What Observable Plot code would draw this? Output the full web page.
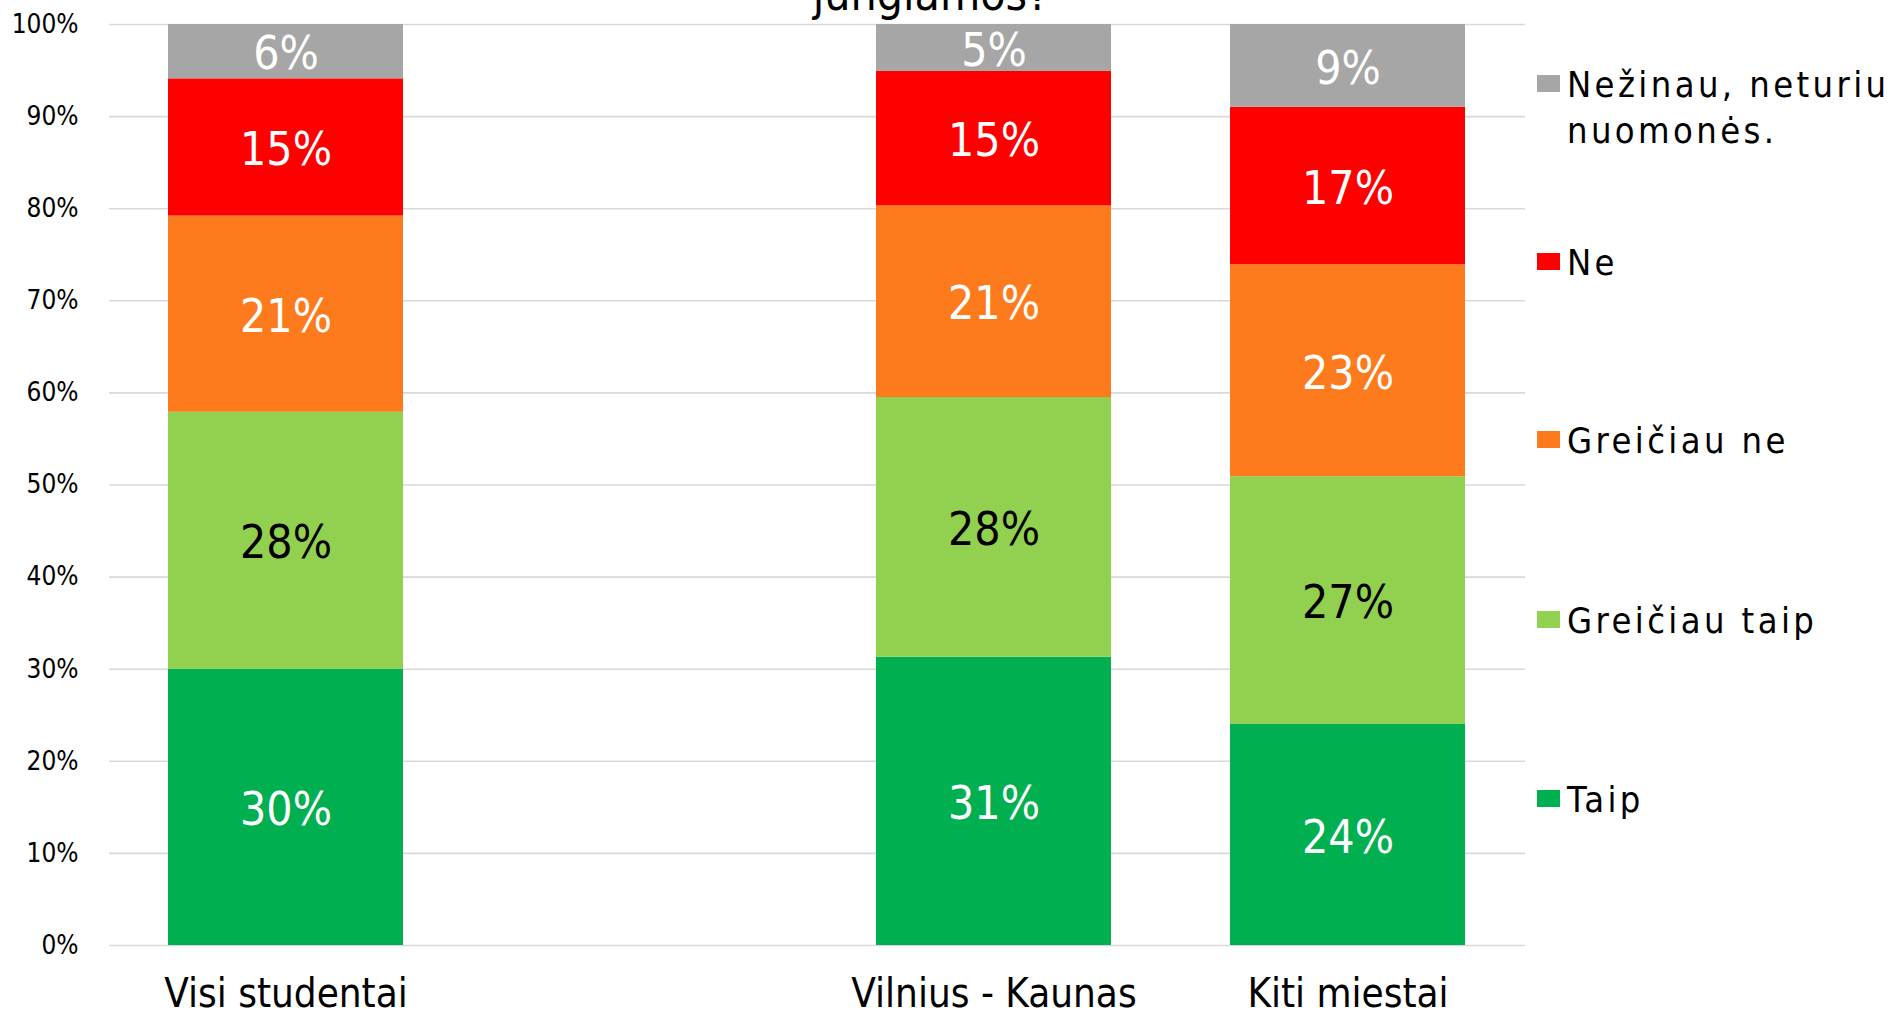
<!DOCTYPE html>
<html><head><meta charset="utf-8">
<script src="https://cdn.jsdelivr.net/npm/d3@7"></script>
<script src="https://cdn.jsdelivr.net/npm/@observablehq/plot@0.6"></script>
<style>
body{margin:0;background:#fff;}
#wrap{position:relative;width:1893px;height:1017px;overflow:hidden;background:#fff;font-family:"DejaVu Sans Condensed","DejaVu Sans",sans-serif;}
#title{position:absolute;left:0;width:1862px;text-align:center;top:-29px;font-size:46px;line-height:46px;color:#000;}
.sw{position:absolute;left:1537px;width:23px;height:17px;}
.lt{position:absolute;left:1567px;width:360px;font-size:36px;line-height:46px;letter-spacing:3.4px;color:#000;white-space:normal;}
#chart{position:absolute;left:0;top:0;}
</style></head><body>
<div id="wrap"><div id="chart"></div><div id="title">jungiamos?</div></div>
<script>
const groups = ["Visi studentai", " ", "Vilnius - Kaunas", "Kiti miestai"];
const answers = ["Taip", "Greičiau taip", "Greičiau ne", "Ne", "Nežinau, neturiu nuomonės."];
const colors = ["#00b050", "#92d050", "#fd7b1c", "#ff0000", "#a6a6a6"];
const labelColors = ["white", "black", "white", "white", "white"];
const visiStudentai = [30.0, 27.9, 21.3, 14.9, 5.9];
const vilniusKaunas = [31.3, 28.2, 20.8, 14.6, 5.1];
const kitiMiestai = [24.0, 26.9, 23.0, 17.1, 9.0];
const yTicks = [0, 10, 20, 30, 40, 50, 60, 70, 80, 90, 100];

const series = {"Visi studentai": visiStudentai, "Vilnius - Kaunas": vilniusKaunas, "Kiti miestai": kitiMiestai};
const data = [];
for (const [g, vals] of Object.entries(series)) {
  vals.forEach((v, i) => data.push({group: g, answer: answers[i], value: v, lc: labelColors[i]}));
}
const lbl = d => Math.round(d.value) + "%";

const chart = Plot.plot({
  width: 1893, height: 1017,
  marginTop: 24, marginBottom: 72, marginLeft: 109, marginRight: 368,
  style: {fontFamily: '"DejaVu Sans Condensed","DejaVu Sans",sans-serif', color: "#000", background: "transparent"},
  x: {domain: groups, paddingInner: 0.336, paddingOuter: 0.168, label: null},
  y: {domain: [0, 100], label: null},
  color: {domain: answers, range: colors},
  marks: [
    Plot.gridY(yTicks, {stroke: "#d9d9d9", strokeOpacity: 1, strokeWidth: 1.6}),
    Plot.barY(data, {x: "group", y: "value", fill: "answer", order: answers}),
    Plot.text(data, Plot.stackY({x: "group", y: "value", z: "answer", order: answers,
      text: d => d.lc === "white" ? lbl(d) : "", fill: "white", fontSize: 46, letterSpacing: -1, dy: 3})),
    Plot.text(data, Plot.stackY({x: "group", y: "value", z: "answer", order: answers,
      text: d => d.lc === "black" ? lbl(d) : "", fill: "black", fontSize: 46, letterSpacing: -1, dy: 3})),
    Plot.axisY({ticks: yTicks, tickFormat: d => d + "%", tickSize: 0, tickPadding: 31, fontSize: 26, label: null}),
    Plot.axisX({tickSize: 0, tickPadding: 33, fontSize: 40, label: null})
  ]
});
document.getElementById("chart").appendChild(chart);

// legend
const wrap = d3.select("#wrap");
const legendOrder = answers.map((a, i) => ({a, c: colors[i]})).reverse();
const centers = [83, 261, 439, 619, 798];
legendOrder.forEach((d, i) => {
  wrap.append("div").attr("class", "sw").style("top", (centers[i] - 8) + "px").style("background", d.c);
  wrap.append("div").attr("class", "lt").style("top", (centers[i] - 21) + "px").text(d.a);
});
</script>
</body></html>
